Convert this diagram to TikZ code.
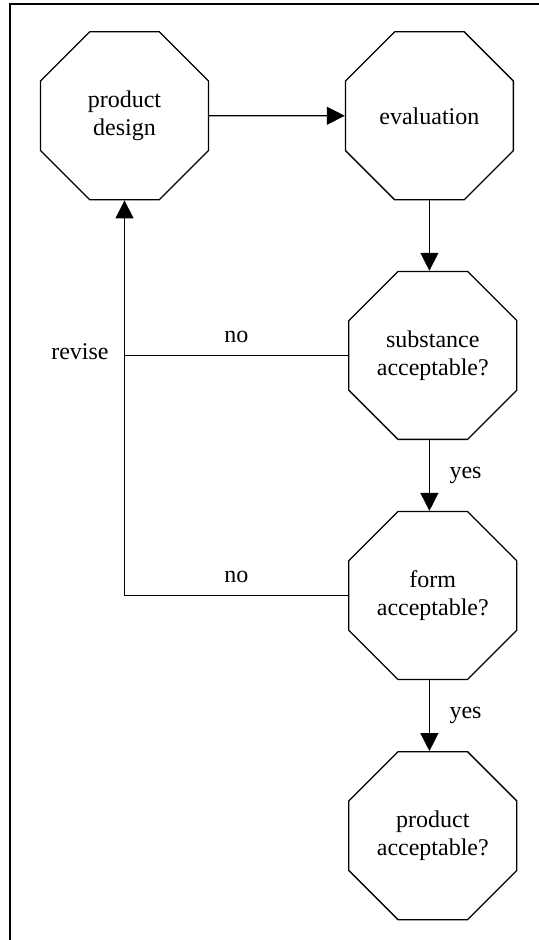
\documentclass[tikz,border=0pt]{standalone}
\usepackage{fontspec}
\setmainfont{Liberation Serif}
\usetikzlibrary{shapes.geometric,arrows.meta}
\begin{document}
\begin{tikzpicture}[x=0.5pt,y=-0.5pt,
  oct/.style={draw, line width=0.65pt, regular polygon, regular polygon sides=8,
    minimum size=90.9pt, inner sep=0pt, align=center,
    font=\fontsize{12pt}{14pt}\selectfont},
  conn/.style={line width=0.65pt},
  arr/.style={conn, -{Triangle[length=9pt,width=9pt]}},
  lbl/.style={font=\fontsize{12pt}{14pt}\selectfont, inner sep=0pt}]
\useasboundingbox (0,0) rectangle (538,940);
\draw[line width=1pt] (10.3,945) -- (10.3,4.1) -- (545,4.1);
\node[oct] (pd) at (124.5,115.8) {product\\design};
\node[oct] (ev) at (429.4,115.8) {evaluation};
\node[oct] (sub) at (432.8,355.4) {substance\\acceptable?};
\node[oct] (form) at (432.8,595.5) {form\\acceptable?};
\node[oct] (pa) at (432.8,835.7) {product\\acceptable?};
\coordinate (c1) at (sub.west -| pd.south);
\draw[arr] (pd.east) -- (ev.west);
\draw[arr] (ev.south) -- (ev.south |- sub.north);
\draw[arr] (sub.south -| ev.south) -- node[lbl, right=9.75pt] {yes} (form.north -| ev.south);
\draw[arr] (form.south -| ev.south) -- node[lbl, right=9.75pt] {yes} (pa.north -| ev.south);
\draw[conn] (sub.west) -- node[lbl, above=6pt] {no} (c1);
\draw[arr] (form.west) -- node[lbl, above=6pt] {no} (form.west -| pd.south) -- (pd.south);
\node[lbl, anchor=east, yshift=1.8pt] (rv) at ([xshift=-7.75pt]c1) {revise};
\end{tikzpicture}
\end{document}
